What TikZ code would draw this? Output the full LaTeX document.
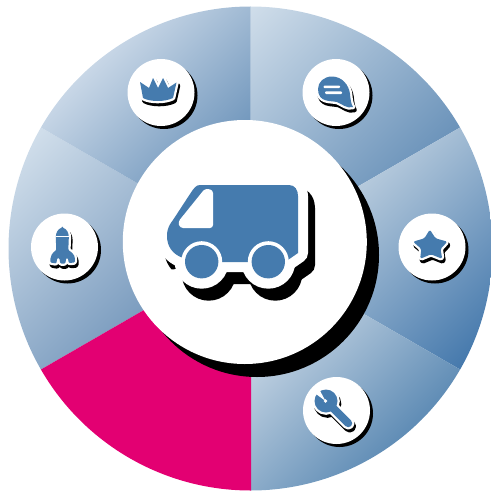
\documentclass[tikz,border=0pt]{standalone}
\definecolor{iconblue}{HTML}{457BAE}
\definecolor{magentawedge}{HTML}{E30072}
\definecolor{wa}{HTML}{D2DFEB}\definecolor{wb}{HTML}{6790B8}
\definecolor{xa}{HTML}{C8D7E4}\definecolor{xb}{HTML}{4075AA}
\definecolor{ya}{HTML}{F4F6F9}\definecolor{yb}{HTML}{5F8CB5}
\definecolor{za}{HTML}{D3E0EC}\definecolor{zb}{HTML}{6E92B8}
\definecolor{va}{HTML}{CBD9E8}\definecolor{vb}{HTML}{4073A5}
\newcommand{\shadedwedge}[6]{%
  \begin{scope}
    \clip (250.5,248.5) -- ++(-#1:242) arc[start angle=-#1,end angle=-#2,radius=242] -- cycle;
    \begin{scope}[transform canvas={rotate=-45}]
      \shade[left color=#5,right color=#6] ({#3*0.7071},-900) rectangle ({#4*0.7071},900);
    \end{scope}
  \end{scope}}
\newcommand{\iconlayers}[4]{%
  \path[fill=black,draw=black,line width=2*#4,line join=round,shift={(#2,#3)}] #1;
  \path[fill=white,draw=white,line width=2*#4,line join=round] #1;
  \path[fill=iconblue] #1;}
\newcommand{\disc}[2]{%
  \fill[black] (#1+3,#2+3) circle[radius=33.5];
  \fill[white] (#1,#2) circle[radius=33.5];}
\def\bodypath{(200,185) -- (289,185) .. controls (295,185) and (298,190) .. (298,196) -- (298,253) -- (285,262) -- (190,262) -- (183,258) .. controls (172,254) and (167,246) .. (167,236) .. controls (167,228) and (170,224) .. (173,220) -- (190,194) .. controls (194,188) and (196,185) .. (200,185) -- cycle}
\def\chatpath{(318,89) .. controls (318,82) and (324,76.5) .. (332,76.5) .. controls (342,76.5) and (349,85) .. (350,94) .. controls (350.5,99) and (351,104) .. (353,107) .. controls (347,109) and (342,104) .. (337,102) .. controls (331,100.5) and (318,103) .. (318,89) -- cycle}
\def\crownpath{(140,82) -- (149,88) -- (153,78) -- (158,88) -- (163,78) -- (168,88) -- (176.5,82.5) -- (173,98) .. controls (165,102) and (150,102) .. (143,98) -- cycle}
\def\starpath{[rounded corners=1.6pt] (429.8,229.5) -- (435.5,238.3) -- (447.5,241.7) -- (440.5,248.8) -- (442.2,258.8) -- (431,254.3) -- (420.2,258.8) -- (421.3,248.8) -- (413,241.7) -- (424.5,238.3) -- cycle}
\def\wrenchpath{(326,401) circle[radius=11.5] (329,398.5) -- (351,420.5) -- (345.5,426) -- (323.5,404) -- cycle (348.3,423.3) circle[radius=3.9]}
\def\rocketpath{[rounded corners=1pt] (62.3,227.5) .. controls (57.8,229) and (55.8,233) .. (55.8,238) -- (56.3,250) .. controls (52.3,253) and (50.3,256) .. (50.3,260) -- (50.3,262.5) -- (56.3,263.5) -- (57.3,258) -- (59.3,258) -- (60.3,263.5) -- (65.3,263.5) -- (66.3,258) -- (67.8,258) -- (68.8,263) -- (74.8,262.5) -- (74.8,259) .. controls (74.8,255) and (71.3,252) .. (68.3,250) -- (68.8,238) .. controls (68.8,233) and (66.8,229) .. (62.3,227.5) -- cycle}
\begin{document}
\begin{tikzpicture}[x=1pt,y=1pt,yscale=-1]
\useasboundingbox (0,0) rectangle (490,495);
% ring wedges
\shadedwedge{30}{90}{250}{600}{wa}{wb}
\shadedwedge{-30}{30}{498}{842}{xa}{xb}
\shadedwedge{-90}{-30}{498}{842}{ya}{yb}
\shadedwedge{150}{210}{160}{500}{za}{zb}
\shadedwedge{90}{150}{150}{500}{va}{vb}
\fill[magentawedge] (250.5,248.5) -- ++(-210:242) arc[start angle=-210,end angle=-270,radius=242] -- (251.2,490.5) -- (251.2,248.5) -- cycle;
% central disc
\fill[black] (257,255) circle[radius=122];
\fill[white] (244.8,242) circle[radius=122];
% truck
\begin{scope}[shift={(7,12)}]
  \path[fill=black,draw=black,line width=20pt,line join=round] \bodypath;
  \fill[black] (201.7,261.7) circle[radius=27];
  \fill[black] (268.3,261.7) circle[radius=27];
\end{scope}
\fill[white] (172,269.5) -- (177,269) -- (182.5,287) -- (172,296) -- (155,272) -- cycle;
\path[fill=white,draw=white,line width=20pt,line join=round] \bodypath;
\fill[white] (201.7,261.7) circle[radius=27];
\fill[white] (268.3,261.7) circle[radius=27];
\path[fill=iconblue] \bodypath;
\fill[white,rounded corners=3pt] (205,188.5) -- (213,190) -- (213,228) -- (180,228) -- (178,222) -- cycle;
\fill[white] (201.7,261.7) circle[radius=20.5];
\fill[white] (268.3,261.7) circle[radius=20.5];
\fill[iconblue] (201.7,261.7) circle[radius=16.7];
\fill[iconblue] (268.3,261.7) circle[radius=16.7];
% small discs and icons
\disc{161}{92.5}
\iconlayers{\crownpath}{1.5}{3}{2.3pt}
\disc{336}{92.5}
\iconlayers{\chatpath}{1.5}{3}{2.3pt}
\fill[white,rounded corners=1pt] (323.5,85.5) rectangle (340,88.2);
\fill[white,rounded corners=1pt] (325,91.3) rectangle (342,94);
\disc{432}{247}
\iconlayers{\starpath}{1.5}{3}{2.3pt}
\disc{336.5}{410.5}
\iconlayers{\wrenchpath}{1.5}{3}{2.3pt}
\fill[white] (325.5,401) circle[radius=1.8];
\fill[white] (325.5,401) -- (314,392.5) -- (318.5,388) -- cycle;
\disc{64.5}{247}
\iconlayers{\rocketpath}{1.5}{3}{2.3pt}
\draw[white,line width=1.3pt] (55.8,236.5) -- (68.8,236.5);
\end{tikzpicture}
\end{document}
